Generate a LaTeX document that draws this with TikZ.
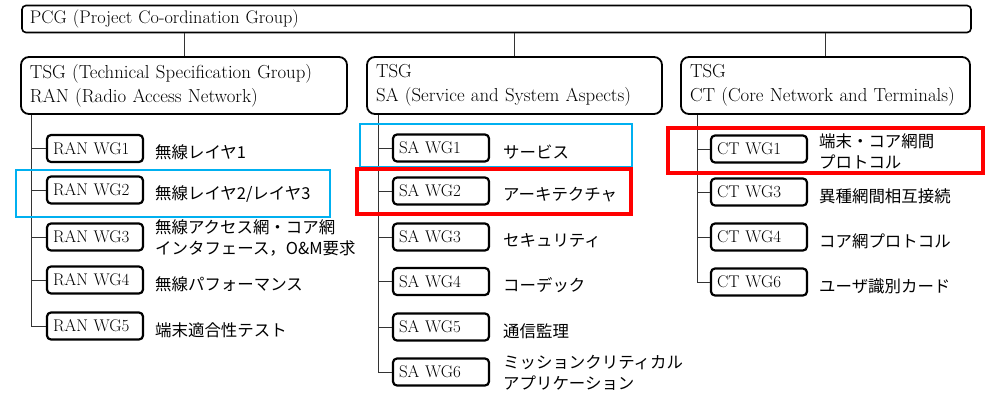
\documentclass[tikz,border=0pt]{standalone}
\usepackage{fontspec}
\newfontfamily\jp{Noto Sans CJK JP}
\definecolor{hlblue}{HTML}{00B0F0}
\definecolor{hlred}{HTML}{FF0000}
\definecolor{conn}{HTML}{333333}
\begin{document}
\begin{tikzpicture}[x=1bp,y=-1bp,
  pcgbox/.style={font=\fontsize{18.3}{24}\selectfont, draw, line width=1.6bp, rounded corners=4bp, minimum height=27bp,
                 inner xsep=8bp, inner ysep=0pt, text width=933bp, align=left},
  tsgbox/.style={font=\fontsize{18.9}{24}\selectfont, draw, line width=1.8bp, rounded corners=8bp, minimum height=57bp,
                 inner xsep=9bp, inner ysep=0pt, align=left},
  wgbox/.style={font=\fontsize{17}{20}\selectfont, draw, line width=2.2bp, rounded corners=4bp, minimum height=27bp,
                inner xsep=6bp, inner ysep=0pt, text width=84bp, align=left},
  lbl/.style={anchor=west, inner sep=0pt, align=left, font=\jp\fontsize{16.5}{21}\selectfont},
  link/.style={draw=conn, line width=0.9bp},
  hlb/.style={draw=hlblue, line width=2.8bp},
  hlr/.style={draw=hlred, line width=3.5bp}]
\useasboundingbox (0,0) rectangle (988,393);

% top level
\node[pcgbox] (pcg) at (496.5,19) {PCG (Project Co-ordination Group)};

% TSGs
\node[tsgbox, text width=308bp] (ran) at (184,85.5) {TSG (Technical Specification Group)\\RAN (Radio Access Network)};
\node[tsgbox, text width=277bp] (sa) at (514.5,85.5) {TSG\\SA (Service and System Aspects)};
\node[tsgbox, text width=271bp] (ct) at (825.5,85.5) {TSG\\CT (Core Network and Terminals)};

\draw[link] (ran.north) -- (ran.north |- pcg.south);
\draw[link] (sa.north) -- (sa.north |- pcg.south);
\draw[link] (ct.north) -- (ct.north |- pcg.south);

% RAN WGs
\node[wgbox] (r1) at (95,148.5) {RAN WG1};
\node[wgbox] (r2) at (95,190) {RAN WG2};
\node[wgbox] (r3) at (95,237) {RAN WG3};
\node[wgbox] (r4) at (95,280) {RAN WG4};
\node[wgbox] (r5) at (95,326) {RAN WG5};
\node[lbl] (lr1) at (155,152.5) {無線レイヤ1};
\node[lbl] (lr2) at (155,194) {無線レイヤ2/レイヤ3};
\node[lbl] (lr3) at (155,238) {無線アクセス網・コア網\\インタフェース，O\&M要求};
\node[lbl] (lr4) at (155,284) {無線パフォーマンス};
\node[lbl] (lr5) at (155,330) {端末適合性テスト};
\coordinate (rb) at (31,0);
\draw[link] (ran.south -| rb) |- (r5.west);
\foreach \n in {r1,r2,r3,r4} \draw[link] (\n.west) -- (\n.west -| rb);

% SA WGs
\node[wgbox] (s1) at (441,148) {SA WG1};
\node[wgbox] (s2) at (441,191) {SA WG2};
\node[wgbox] (s3) at (441,237) {SA WG3};
\node[wgbox] (s4) at (441,281.5) {SA WG4};
\node[wgbox] (s5) at (441,327) {SA WG5};
\node[wgbox] (s6) at (441,372) {SA WG6};
\node[lbl] (ls1) at (503,152) {サービス};
\node[lbl] (ls2) at (503,195) {アーキテクチャ};
\node[lbl] (ls3) at (503,241) {セキュリティ};
\node[lbl] (ls4) at (503,285.5) {コーデック};
\node[lbl] (ls5) at (503,331) {通信監理};
\node[lbl] (ls6) at (503,373) {ミッションクリティカル\\アプリケーション};
\coordinate (sb) at (378,0);
\draw[link] (sa.south -| sb) |- (s6.west);
\foreach \n in {s1,s2,s3,s4,s5} \draw[link] (\n.west) -- (\n.west -| sb);

% CT WGs
\node[wgbox] (c1) at (759,149) {CT WG1};
\node[wgbox] (c3) at (759,192) {CT WG3};
\node[wgbox] (c4) at (759,237) {CT WG4};
\node[wgbox] (c6) at (759,282) {CT WG6};
\node[lbl] (lc1) at (819,151.5) {端末・コア網間\\プロトコル};
\node[lbl] (lc3) at (819,196) {異種網間相互接続};
\node[lbl] (lc4) at (819,241) {コア網プロトコル};
\node[lbl] (lc6) at (819,286) {ユーザ識別カード};
\coordinate (cb) at (697,0);
\draw[link] (ct.south -| cb) |- (c6.west);
\foreach \n in {c1,c3,c4} \draw[link] (\n.west) -- (\n.west -| cb);

% highlight frames
\draw[hlb] (16,170) rectangle (330,217);
\draw[hlb] (360,124) rectangle (632,167);
\draw[hlr] (357,169) rectangle (631,214);
\draw[hlr] (668,128) rectangle (983,173);
\end{tikzpicture}
\end{document}
